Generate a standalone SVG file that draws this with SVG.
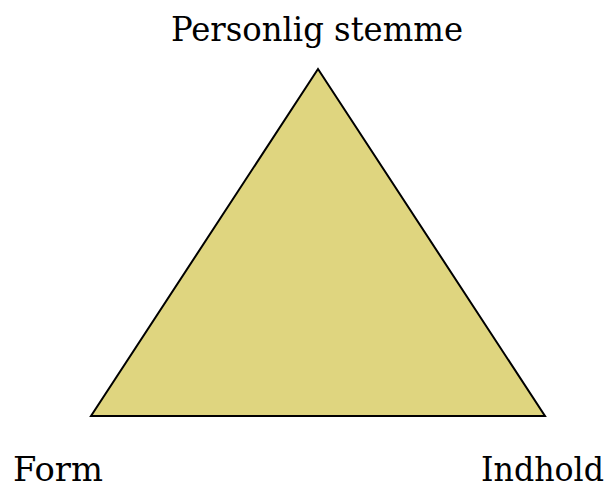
<svg xmlns="http://www.w3.org/2000/svg" width="613" height="485" viewBox="0 0 613 485">
<style>
text{font-family:"DejaVu Serif","Liberation Serif",serif;font-size:34px;fill:#000}
.tri{fill:#DFD57F;stroke:#000;stroke-width:2;stroke-linejoin:miter}
</style>
<rect width="613" height="485" fill="#fff"/>
<g id="triangle"><polygon class="tri" points="318,69 91,416 545,416"/></g>
<g id="connectors"></g>
<g id="top"><text x="171" y="41" textLength="292" lengthAdjust="spacingAndGlyphs">Personlig stemme</text></g>
<g id="left"><text x="13" y="481" textLength="90" lengthAdjust="spacingAndGlyphs">Form</text></g>
<g id="right"><text x="481" y="481" textLength="123" lengthAdjust="spacingAndGlyphs">Indhold</text></g>
</svg>
